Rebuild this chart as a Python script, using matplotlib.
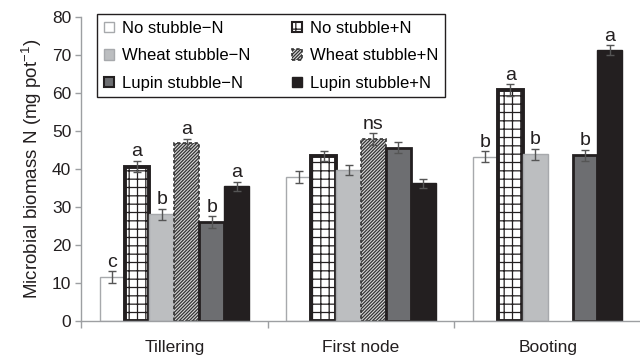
import numpy as np
import matplotlib

matplotlib.use("Agg")
import matplotlib.pyplot as plt

plt.rcParams["font.family"] = ["Liberation Sans", "DejaVu Sans"]
plt.rcParams["mathtext.default"] = "regular"
plt.rcParams["hatch.linewidth"] = 0.9

############### DATA ###############
stages = ["Tillering", "First node", "Booting"]
treatments = [
    "No stubble\u2212N",
    "No stubble+N",
    "Wheat stubble\u2212N",
    "Wheat stubble+N",
    "Lupin stubble\u2212N",
    "Lupin stubble+N",
]
# microbial biomass N per treatment, one value per stage (nan = not measured)
no_stubble_minus = [11.6, 38.0, 43.2]
no_stubble_plus = [40.6, 43.5, 60.8]
wheat_minus = [28.1, 39.7, 43.9]
wheat_plus = [46.8, 47.9, np.nan]
lupin_minus = [26.1, 45.6, 43.6]
lupin_plus = [35.5, 36.2, 71.3]

no_stubble_minus_err = [1.5, 1.6, 1.45]
no_stubble_plus_err = [1.5, 1.3, 1.5]
wheat_minus_err = [1.4, 1.4, 1.4]
wheat_plus_err = [1.2, 1.5, np.nan]
lupin_minus_err = [1.5, 1.5, 1.4]
lupin_plus_err = [1.2, 1.2, 1.3]

# significance letters
no_stubble_minus_sig = ["c", "", "b"]
no_stubble_plus_sig = ["a", "", "a"]
wheat_minus_sig = ["b", "", "b"]
wheat_plus_sig = ["a", "ns", ""]
lupin_minus_sig = ["b", "", "b"]
lupin_plus_sig = ["a", "", "a"]

values = [no_stubble_minus, no_stubble_plus, wheat_minus, wheat_plus, lupin_minus, lupin_plus]
errors = [no_stubble_minus_err, no_stubble_plus_err, wheat_minus_err,
          wheat_plus_err, lupin_minus_err, lupin_plus_err]
letters = [no_stubble_minus_sig, no_stubble_plus_sig, wheat_minus_sig,
           wheat_plus_sig, lupin_minus_sig, lupin_plus_sig]

styles = [
    dict(facecolor="white", edgecolor="#a7a9ac", linewidth=1.0),
    dict(facecolor="white", edgecolor="#231f20", linewidth=2.8, hatch="++"),
    dict(facecolor="#bcbec0", edgecolor="#a7a9ac", linewidth=1.0),
    dict(facecolor="#d9d9d9", edgecolor="#333333", linewidth=1.2, hatch="//////////", linestyle=(0, (2, 1.5))),
    dict(facecolor="#6d6e71", edgecolor="#231f20", linewidth=2.0),
    dict(facecolor="#231f20", edgecolor="#231f20", linewidth=1.0),
]

############### PLOT ###############
fig = plt.figure(figsize=(6.4, 3.58), dpi=100)
ax = fig.add_axes([81 / 640, 37 / 358, 560 / 640, 304 / 358])

n = len(treatments)
width = 0.8 / n
x = np.arange(len(stages)) + 0.5
handles = []
for i in range(n):
    pos = x - 0.4 + width * (i + 0.5)
    vals = np.array(values[i], dtype=float)
    errs = np.array(errors[i], dtype=float)
    bars = ax.bar(pos, vals, width, label=treatments[i], zorder=2, **styles[i])
    handles.append(bars)
    ax.errorbar(pos, vals, yerr=errs, fmt="none", ecolor="#555555",
                elinewidth=1.0, capsize=3, capthick=1.0, zorder=3)
    for p, v, e, t in zip(pos, vals, errs, letters[i]):
        if t and not np.isnan(v):
            ax.text(p, v + e + 1.2, t, ha="center", va="baseline",
                    fontsize=14, color="#231f20")

ax.set_xlim(0, 3)
ax.set_ylim(0, 80)
ax.set_yticks(np.arange(0, 81, 10))
ax.set_xticks([0, 1, 2, 3])
ax.set_xticklabels([])
ax.set_xticks(x, minor=True)
ax.set_xticklabels(stages, minor=True, fontsize=12.5, color="#231f20")
ax.tick_params(axis="x", which="minor", length=0, pad=14)
ax.tick_params(axis="x", which="major", length=5, color="#9d9fa2", width=1)
ax.tick_params(axis="y", length=4, color="#9d9fa2", width=1, labelsize=12.5,
               labelcolor="#231f20", pad=3)

for side in ["top", "right"]:
    ax.spines[side].set_visible(False)
for side in ["left", "bottom"]:
    ax.spines[side].set_color("#9d9fa2")
    ax.spines[side].set_linewidth(1)

ax.set_ylabel("Microbial biomass N (mg pot$^{-1}$)", fontsize=13.5, color="#231f20", labelpad=6)

order = [0, 2, 4, 1, 3, 5]
leg = fig.legend(
    [handles[k] for k in order],
    [treatments[k] for k in order],
    ncol=2,
    loc="upper left",
    bbox_to_anchor=(97 / 640, 1 - 14 / 358),
    fontsize=12,
    frameon=True,
    fancybox=False,
    framealpha=1,
    edgecolor="#231f20",
    handlelength=0.6,
    handleheight=0.6,
    handletextpad=0.5,
    columnspacing=2.5,
    labelspacing=0.75,
    borderpad=0.4,
    borderaxespad=0,
)
leg.get_frame().set_linewidth(1.0)
for h in leg.legend_handles:
    h.set_linewidth(min(h.get_linewidth(), 1.5))

fig.savefig("out.png", dpi=100)
